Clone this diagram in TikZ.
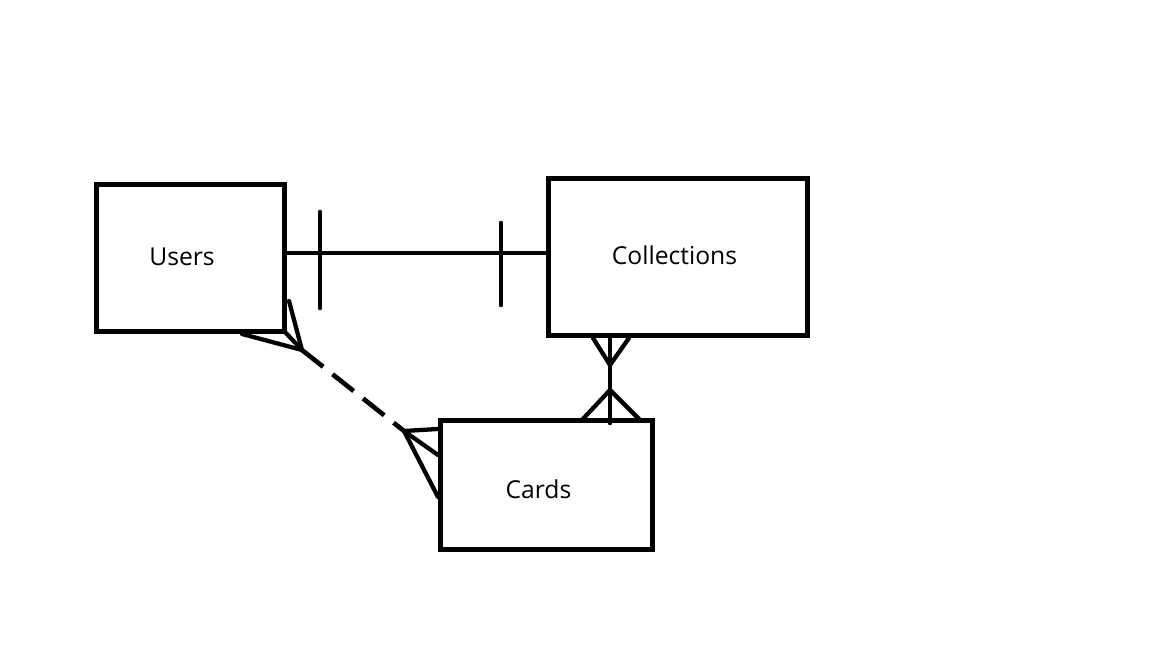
\documentclass[tikz,border=0pt]{standalone}
\usepackage{fontspec}
\setmainfont{Open Sans}
\begin{document}
\begin{tikzpicture}[x=0.75pt,y=-0.75pt,
  entity/.style={draw=black,line width=3.75pt,inner sep=0pt,outer sep=0pt,fill=none},
  lbl/.style={anchor=base,inner sep=0pt,font=\fontsize{18.5pt}{22pt}\selectfont},
  rel/.style={line width=3.5pt,line cap=round},
  foot/.style={line width=3.2pt,line cap=round}]
\useasboundingbox[fill=white] (0,0) rectangle (1152,648);
% entities
\node[entity,minimum width=141pt,minimum height=110.25pt] (users) at (190.5,258) {};
\node[entity,minimum width=194.25pt,minimum height=117.75pt] (coll) at (678,257) {};
\node[entity,minimum width=159pt,minimum height=96.75pt] (cards) at (546.5,485) {};
\node[lbl] (usersT) at (182,266) {Users};
\node[lbl] (collT) at (674.5,265) {Collections};
\node[lbl] (cardsT) at (538.5,498) {Cards};
% Users -- Collections (one to one)
\draw[rel] (users.east |- 0,253) -- (coll.west |- 0,253);
\draw[rel] (320,212) -- (320,308);
\draw[rel] (501,223) -- (501,305);
% Users -- Cards (many to many, dashed)
\coordinate (a1) at (302,350);
\coordinate (a2) at (404,431);
\draw[rel,line cap=butt,dash pattern=on 20.25pt off 9pt] (a1) -- (a2);
\draw[foot] (a1) -- (242,334);
\draw[foot] (a1) -- (users.south east);
\draw[foot] (a1) -- (289,301);
\draw[foot] (a2) -- (438,429);
\draw[foot] (a2) -- (438,455);
\draw[foot] (a2) -- (438,497);
% Collections -- Cards (many to many)
\coordinate (b1) at (610,365);
\coordinate (b2) at (610,390);
\draw[rel] (coll.south -| 610,0) -- (610,423);
\draw[foot] (b1) -- (593,338);
\draw[foot] (b1) -- (629,338);
\draw[foot] (b2) -- (582,420);
\draw[foot] (b2) -- (640,420);
\end{tikzpicture}
\end{document}
